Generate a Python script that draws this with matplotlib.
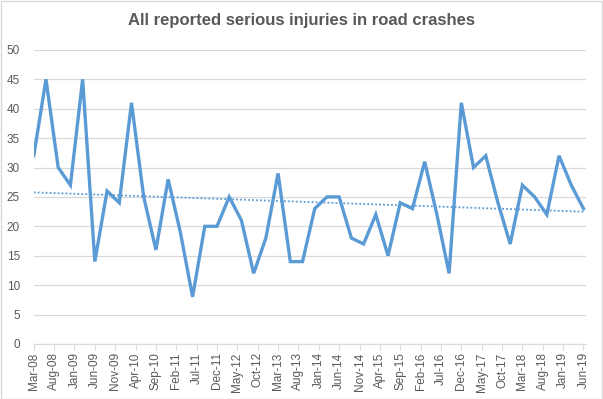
import numpy as np
import matplotlib
matplotlib.use("Agg")
import matplotlib.pyplot as plt
from matplotlib.patches import Rectangle

# quarterly values, Mar-08 .. Jun-19
injuries = [32, 45, 30, 27, 45, 14, 26, 24, 41, 25, 16, 28, 19, 8, 20, 20,
            25, 21, 12, 18, 29, 14, 14, 23, 25, 25, 18, 17, 22, 15, 24, 23,
            31, 22, 12, 41, 30, 32, 24, 17, 27, 25, 22, 32, 27, 23]
# months since Mar-08 for each quarter
months = [3 * i for i in range(len(injuries))]

tick_labels = ["Mar-08", "Aug-08", "Jan-09", "Jun-09", "Nov-09", "Apr-10",
               "Sep-10", "Feb-11", "Jul-11", "Dec-11", "May-12", "Oct-12",
               "Mar-13", "Aug-13", "Jan-14", "Jun-14", "Nov-14", "Apr-15",
               "Sep-15", "Feb-16", "Jul-16", "Dec-16", "May-17", "Oct-17",
               "Mar-18", "Aug-18", "Jan-19", "Jun-19"]
tick_pos = [5 * i for i in range(len(tick_labels))]

blue = "#5b9bd5"
grey_txt = "#595959"
grid_c = "#d9d9d9"

plt.rcParams['font.family'] = ['Liberation Sans', 'DejaVu Sans']

fig = plt.figure(figsize=(6.03, 3.99), dpi=100)
ax = fig.add_axes([0.056, 0.138, 0.915, 0.737])

ax.plot(months, injuries, color=blue, linewidth=2.4, solid_joinstyle='miter')

# linear trendline
k, b = np.polyfit(months, injuries, 1)
xs = np.array([months[0], months[-1]])
ax.plot(xs, k * xs + b, color=blue, linewidth=1.3, linestyle=(0, (1, 1.2)))

ax.set_xlim(0, 135.5)
ax.set_ylim(0, 50)
ax.set_yticks(range(0, 51, 5))
ax.set_xticks(tick_pos)
ax.set_xticklabels(tick_labels, rotation=90)
ax.tick_params(axis='x', colors=grid_c, labelcolor=grey_txt, labelsize=8.5,
               length=4, width=0.8, pad=2)
ax.tick_params(axis='y', length=0, labelcolor=grey_txt, labelsize=8.5, pad=10)
ax.grid(axis='y', color=grid_c, linewidth=0.9)
ax.set_axisbelow(True)
for s in ['top', 'right', 'left']:
    ax.spines[s].set_visible(False)
ax.spines['bottom'].set_color(grid_c)

fig.text(0.5, 0.948, "All reported serious injuries in road crashes",
         ha='center', va='center', fontsize=12, fontweight='bold', color=grey_txt)

fig.patches.append(Rectangle((0.001, 0.001), 0.997, 0.997, transform=fig.transFigure,
                             fill=False, edgecolor=grid_c, linewidth=1))

fig.savefig("out.png", dpi=100)
